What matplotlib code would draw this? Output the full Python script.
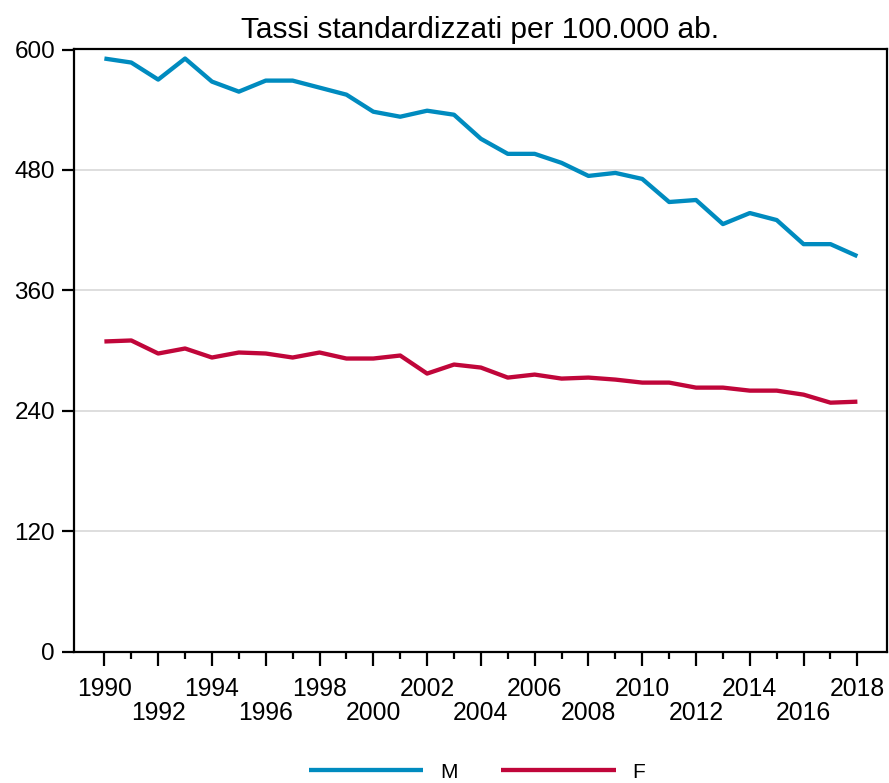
import matplotlib
matplotlib.use("Agg")
import matplotlib.pyplot as plt

plt.rcParams['font.family'] = ['Liberation Sans', 'DejaVu Sans']

years = list(range(1990, 2019))
male = [591, 587, 570, 591, 568, 558, 569, 569, 562, 555, 538, 533, 539, 535,
        511, 496, 496, 487, 474, 477, 471, 448, 450, 426, 437, 430, 406, 406, 394]
female = [309, 310, 297, 302, 293, 298, 297, 293, 298, 292, 292, 295, 277, 286,
          283, 273, 276, 272, 273, 271, 268, 268, 263, 263, 260, 260, 256, 248, 249]
series_labels = ["M", "F"]
title = "Tassi standardizzati per 100.000 ab."
yticks = [0, 120, 240, 360, 480, 600]
major_years = list(range(1990, 2019, 2))
minor_years = list(range(1991, 2018, 2))

fig = plt.figure(figsize=(8.89, 7.83), dpi=100)
ax = fig.add_axes([74/889, 1 - 651.5/783, (886.7 - 74)/889, (651.5 - 49)/783])

c_m = "#008bbf"
c_f = "#c0063a"
ax.plot(years, male, color=c_m, lw=3.1, label=series_labels[0], solid_capstyle='butt', zorder=3)
ax.plot(years, female, color=c_f, lw=3.1, label=series_labels[1], solid_capstyle='butt', zorder=3)

ax.set_xlim(1988.87, 2019.09)
ax.set_ylim(0, 600.5)
ax.set_yticks(yticks)
ax.set_yticklabels([str(v) for v in yticks])
ax.set_xticks(major_years)
ax.set_xticklabels([str(y) for y in major_years])
ax.set_xticks(minor_years, minor=True)

for y in yticks[1:-1]:
    ax.axhline(y, color="#d4d4d4", lw=1.1, zorder=1)

for s in ax.spines.values():
    s.set_linewidth(1.6)
    s.set_color("black")

ax.tick_params(axis='y', direction='out', length=8.6, width=1.6, pad=5, labelsize=17.5)
ax.tick_params(axis='x', which='major', direction='out', length=10, width=1.6, pad=8, labelsize=17.8)
ax.tick_params(axis='x', which='minor', direction='out', length=5, width=1.6)

for i, t in enumerate(ax.xaxis.get_major_ticks()):
    if i % 2 == 1:
        t.set_pad(25.6)

fig.text(480/889, 1 - 38/783, title, ha='center', va='baseline', fontsize=21.5)

handles, labels = ax.get_legend_handles_labels()
fig.legend(handles, labels, loc='center', bbox_to_anchor=(477/889, 1 - 772/783),
           ncol=2, frameon=False, fontsize=15, handlelength=5.5,
           handletextpad=0.8, columnspacing=2.1)

fig.savefig("out.png", dpi=100)
